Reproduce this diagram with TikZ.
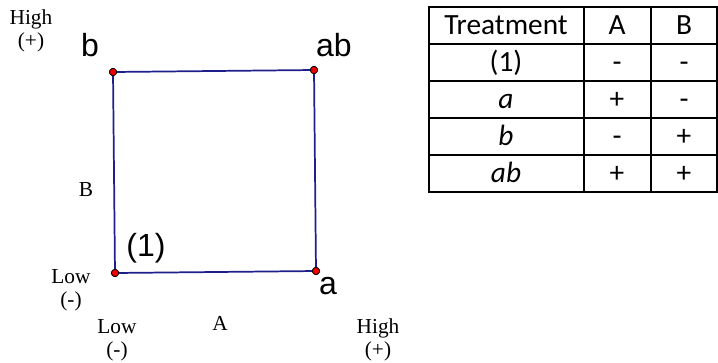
\documentclass[tikz,border=0pt]{standalone}
\usepackage{fontspec}
\setmainfont{Liberation Serif}
\newfontfamily\arialfont{Liberation Sans}
\newfontfamily\califont{Carlito}
\usepackage{xcolor}
\definecolor{edgeblue}{RGB}{30,30,140}
\definecolor{dotred}{RGB}{235,0,0}

\tikzset{
  corner/.style={circle, draw=black, fill=dotred, line width=0.5pt, inner sep=0pt, minimum size=5.5pt},
  side/.style={draw=edgeblue, line width=1.3pt},
  cornerlab/.style={font=\arialfont\fontsize{24}{26}\selectfont},
  levellab/.style={font=\fontsize{16}{17}\selectfont, align=center, inner sep=0pt},
  cell/.style={font=\califont\fontsize{22}{24}\selectfont, inner sep=0pt, anchor=base},
  gridline/.style={line width=1.5pt}
}

\begin{document}
\begin{tikzpicture}[x=0.75pt, y=-0.75pt]
  \useasboundingbox (0,0) rectangle (718,362);

  % the square of treatment combinations
  \node[corner] (one) at (115,273) {};
  \node[corner] (a)   at (316,271) {};
  \node[corner] (ab)  at (314,70) {};
  \node[corner] (b)   at (113,72) {};
  \draw[side] (one.center) -- (a.center) -- (ab.center) -- (b.center) -- cycle;
  \foreach \p in {one,a,ab,b} \node[corner] at (\p) {};

  \node[cornerlab] (lb)   at (90,45)  {b};
  \node[cornerlab] (lab)  at (334,45) {ab};
  \node[cornerlab] (lone) at (146,248) {(1)};
  \node[cornerlab] (la)   at (328,286) {a};

  % factor levels
  \node[levellab] (bhigh) at (31,31)  {High\\(+)};
  \node[levellab] (blab)  at (86,190) {B};
  \node[levellab] (blow)  at (71,290) {Low\\(-)};
  \node[levellab] (alow)  at (117,340) {Low\\(-)};
  \node[levellab] (alab)  at (220,323) {A};
  \node[levellab] (ahigh) at (378,340) {High\\(+)};

  % sign table
  \draw[gridline] (429,7) rectangle (717,192);
  \foreach \y in {44,81,118,155} \draw[gridline] (429,\y) -- (717,\y);
  \foreach \x in {584,651} \draw[gridline] (\x,7) -- (\x,192);
  \node[cell] (hT) at (506,34) {Treatment};
  \node[cell] (hA) at (617,34) {A};
  \node[cell] (hB) at (684,34) {B};
  \foreach \t/\sa/\sb [count=\i] in {(1)/-/-, \textit{a}/+/-, \textit{b}/-/+, \textit{ab}/+/+} {
    \node[cell] (t\i) at (506,34+37*\i) {\t};
    \node[cell] (sa\i) at (617,34+37*\i) {\sa};
    \node[cell] (sb\i) at (684,34+37*\i) {\sb};
  }
\end{tikzpicture}
\end{document}
